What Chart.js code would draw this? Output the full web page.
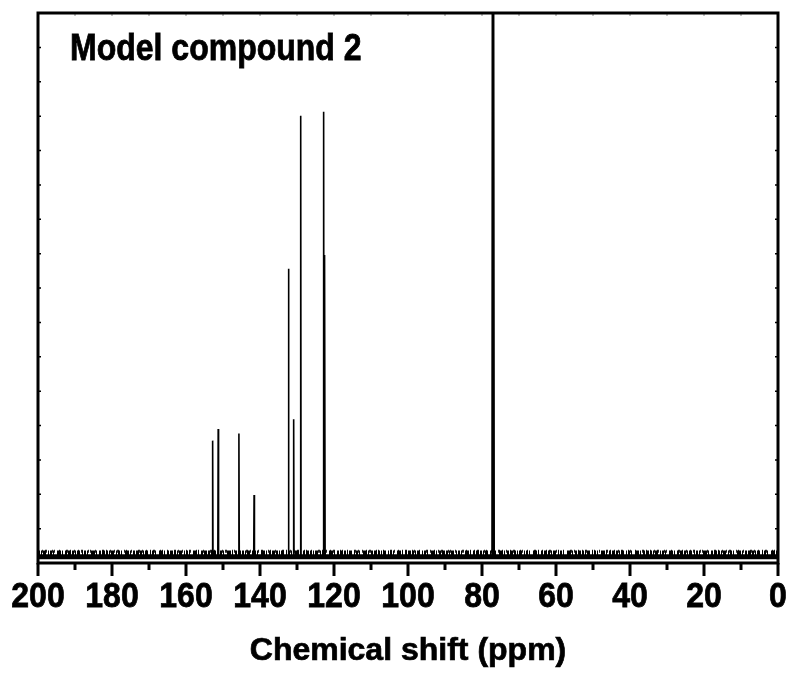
<!DOCTYPE html>
<html>
<head>
<meta charset="utf-8">
<script src="https://cdn.jsdelivr.net/npm/chart.js@4.4.1/dist/chart.umd.min.js"></script>
<style>
  html, body { margin: 0; padding: 0; background: #fff; }
  #wrap { width: 796px; height: 673px; }
</style>
</head>
<body>
<div id="wrap"><canvas id="nmr" width="796" height="673"></canvas></div>
<script>
// 13C spectrum, model compound 2 (CDCl3)
var peakShifts  = [152.8, 151.3, 145.7, 141.6, 132.3, 130.9, 129.0, 122.8, 122.5];
var peakHeights = [3.56, 3.90, 3.77, 1.98, 8.56, 4.18, 13.01, 13.13, 8.96];
var solventShifts  = [77.2, 77.0, 76.8];
var solventHeights = [18, 18, 18];
var baseLevel = 0.18;
var noiseTop = 0.29;
var noiseCrest = 0.34;
var xRange = [200, 0];
var xLabelStep = 20;
var chartTitle = 'Model compound 2';
var xTitle = 'Chemical shift (ppm)';

var FONT = 'bold 32px "Liberation Sans", Arial, sans-serif';

function spikes(shifts, heights) {
    var pts = [];
    shifts.forEach(function(s, i) {
        pts.push({x: s + 0.1, y: baseLevel});
        pts.push({x: s, y: heights[i]});
        pts.push({x: s - 0.1, y: baseLevel});
    });
    return pts;
}

function flat(level) {
    return [{x: xRange[0], y: level}, {x: xRange[1], y: level}];
}

var spectrum = [{x: xRange[0], y: baseLevel}]
    .concat(spikes(peakShifts, peakHeights))
    .concat(spikes(solventShifts, solventHeights))
    .concat([{x: xRange[1], y: baseLevel}]);

// text drawn taller than wide, like the plotting program does
function tallText(ctx, text, x, y, sy, align) {
    ctx.save();
    ctx.translate(x, y);
    ctx.scale(1, sy);
    ctx.font = FONT;
    ctx.fillStyle = '#000';
    ctx.strokeStyle = '#000';
    ctx.lineWidth = 0.7;
    ctx.textAlign = align;
    ctx.textBaseline = 'alphabetic';
    ctx.fillText(text, 0, 0);
    ctx.strokeText(text, 0, 0);
    ctx.restore();
}

var framePlugin = {
    id: 'frame',
    afterDraw: function(chart) {
        var ctx = chart.ctx, a = chart.chartArea;
        var xs = chart.scales.x, ys = chart.scales.y;
        ctx.save();
        ctx.strokeStyle = '#000';
        ctx.lineCap = 'butt';

        // small inward ticks on left/right
        ctx.lineWidth = 1.5;
        ys.ticks.forEach(function(t) {
            var py = ys.getPixelForValue(t.value);
            ctx.beginPath();
            ctx.moveTo(a.left, py); ctx.lineTo(a.left + 3, py);
            ctx.moveTo(a.right, py); ctx.lineTo(a.right - 3, py);
            ctx.stroke();
        });
        // faint ticks under the top border
        ctx.strokeStyle = '#888';
        ctx.lineWidth = 1;
        xs.ticks.forEach(function(t) {
            var px = xs.getPixelForValue(t.value);
            ctx.beginPath();
            ctx.moveTo(px, a.top); ctx.lineTo(px, a.top + 3);
            ctx.stroke();
        });

        // frame
        ctx.strokeStyle = '#000';
        ctx.lineWidth = 3;
        ctx.strokeRect(a.left, a.top, a.right - a.left, a.bottom - a.top);

        // bottom ticks, pointing out
        xs.ticks.forEach(function(t) {
            var px = xs.getPixelForValue(t.value);
            var major = t.value % xLabelStep === 0;
            ctx.beginPath();
            ctx.moveTo(px, a.bottom);
            ctx.lineTo(px, a.bottom + (major ? 13 : 7));
            ctx.stroke();
            if (major) tallText(ctx, String(t.value), px, a.bottom + 44, 1.12, 'center');
        });
        ctx.restore();

        tallText(ctx, chartTitle, a.left + 32, 60, 1.16, 'left');
        tallText(ctx, xTitle, (a.left + a.right) / 2, 660, 1.0, 'center');
    }
};

new Chart(document.getElementById('nmr'), {
    type: 'line',
    data: {
        datasets: [{
            label: 'spectrum',
            data: spectrum,
            borderColor: '#000',
            borderWidth: 1.6,
            pointRadius: 0,
            tension: 0
        }, {
            label: 'noise band',
            data: flat(baseLevel),
            borderColor: '#000',
            borderWidth: 5,
            pointRadius: 0
        }, {
            label: 'noise top',
            data: flat(noiseTop),
            borderColor: '#000',
            borderWidth: 5,
            borderDash: [2, 1, 1, 1, 3, 2, 1, 1, 2, 1, 1, 3, 4, 1, 1, 2, 2, 1, 3, 1],
            pointRadius: 0
        }, {
            label: 'noise crest',
            data: flat(noiseCrest),
            borderColor: '#222',
            borderWidth: 3,
            borderDash: [1, 3, 1, 2, 2, 5, 1, 1, 1, 4, 1, 6, 2, 2, 1, 3],
            pointRadius: 0
        }]
    },
    plugins: [framePlugin],
    options: {
        responsive: false,
        animation: false,
        devicePixelRatio: 1,
        layout: { padding: { left: 38, top: 13, right: 18, bottom: 110 } },
        plugins: { legend: { display: false }, tooltip: { enabled: false } },
        scales: {
            x: {
                type: 'linear',
                reverse: true,
                min: 0, max: 200,
                ticks: { stepSize: 10 },
                display: false
            },
            y: {
                min: 0, max: 16,
                ticks: { stepSize: 1 },
                display: false
            }
        }
    }
});
</script>
</body>
</html>
